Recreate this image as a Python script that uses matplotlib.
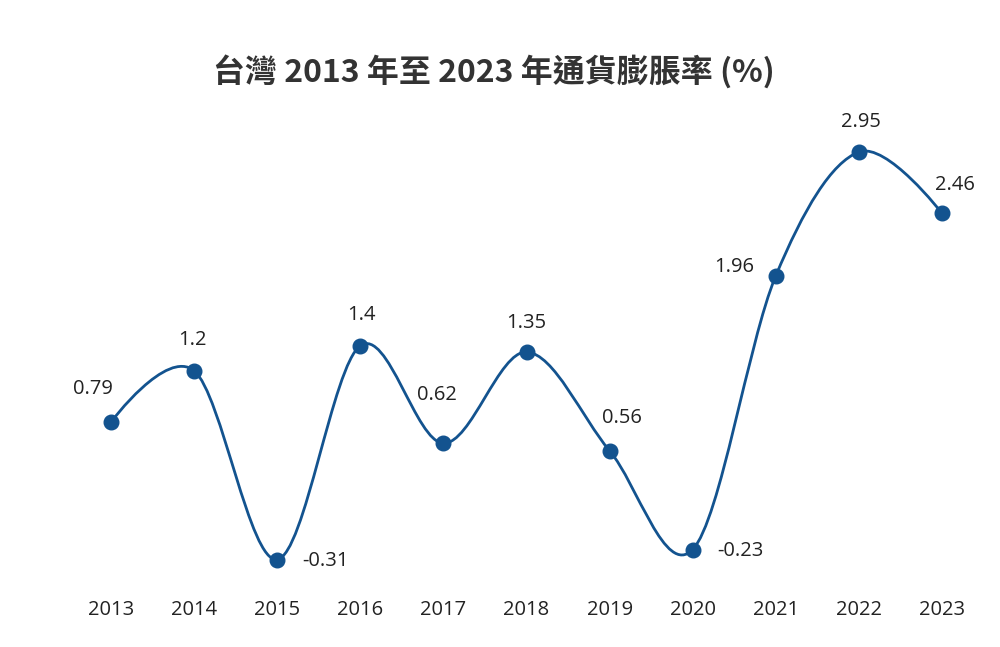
import matplotlib
matplotlib.use("Agg")
import matplotlib.pyplot as plt
import numpy as np
from matplotlib.path import Path
from matplotlib.patches import PathPatch
from matplotlib.transforms import blended_transform_factory

# data
years = ["2013", "2014", "2015", "2016", "2017", "2018",
         "2019", "2020", "2021", "2022", "2023"]
rates = [0.79, 1.2, -0.31, 1.4, 0.62, 1.35, 0.56, -0.23, 1.96, 2.95, 2.46]
title = "台灣 2013 年至 2023 年通貨膨脹率 (%)"

# label offsets in pixels (dx, dy)
offsets = [(-18, 33), (-2, 31), (48, -1), (1, 31), (-6, 48), (0, 29),
           (12, 33), (48, -1), (-42, 9), (2, 30), (13, 28)]

color = "#13538f"
font = ["Open Sans", "DejaVu Sans"]

fig = plt.figure(figsize=(10, 6.47), dpi=100)
ax = fig.add_axes([0, 0, 1, 1])
ax.set_axis_off()

px_step = 83.1
px_unit = 125.0
ax.set_xlim(-111 / px_step, (1000 - 111) / px_step)
ax.set_ylim((520.75 - 647) / px_unit, 520.75 / px_unit)

x = np.arange(len(years), dtype=float)
y = np.array(rates)

# catmull-rom style bezier smoothing
k = 1 / 6
verts = [(x[0], y[0])]
codes = [Path.MOVETO]
n = len(x)
for i in range(n - 1):
    ip = max(i - 1, 0)
    inn = min(i + 2, n - 1)
    c1 = (x[i] + (x[i + 1] - x[ip]) * k, y[i] + (y[i + 1] - y[ip]) * k)
    c2 = (x[i + 1] - (x[inn] - x[i]) * k, y[i + 1] - (y[inn] - y[i]) * k)
    if i == 0:
        c1 = (x[0], y[0])
    if i == n - 2:
        c2 = (x[-1], y[-1])
    verts += [c1, c2, (x[i + 1], y[i + 1])]
    codes += [Path.CURVE4] * 3
ax.add_patch(PathPatch(Path(verts, codes), facecolor="none",
                       edgecolor=color, lw=2.0, zorder=2))

ax.plot(x, y, "o", color=color, markersize=10.5, zorder=3)

for xi, yi, v, (dx, dy) in zip(x, y, rates, offsets):
    ax.annotate(f"{v:g}", (xi, yi), xytext=(dx, dy), textcoords="offset pixels",
                ha="center", va="center", fontsize=14.5, color="#222222",
                family=font)

trans = blended_transform_factory(ax.transData, fig.transFigure)
for xi, lab in zip(x, years):
    ax.text(xi, 1 - 610 / 647, lab, transform=trans, ha="center", va="center",
            fontsize=14.5, color="#222222", family=font)

fig.text(494 / 1000, 1 - 72 / 647, title, ha="center", va="center",
         fontsize=23, fontweight="bold", color="#333333",
         family=["Noto Sans CJK TC", "DejaVu Sans"])

fig.savefig("out.png", dpi=100, facecolor="white")
